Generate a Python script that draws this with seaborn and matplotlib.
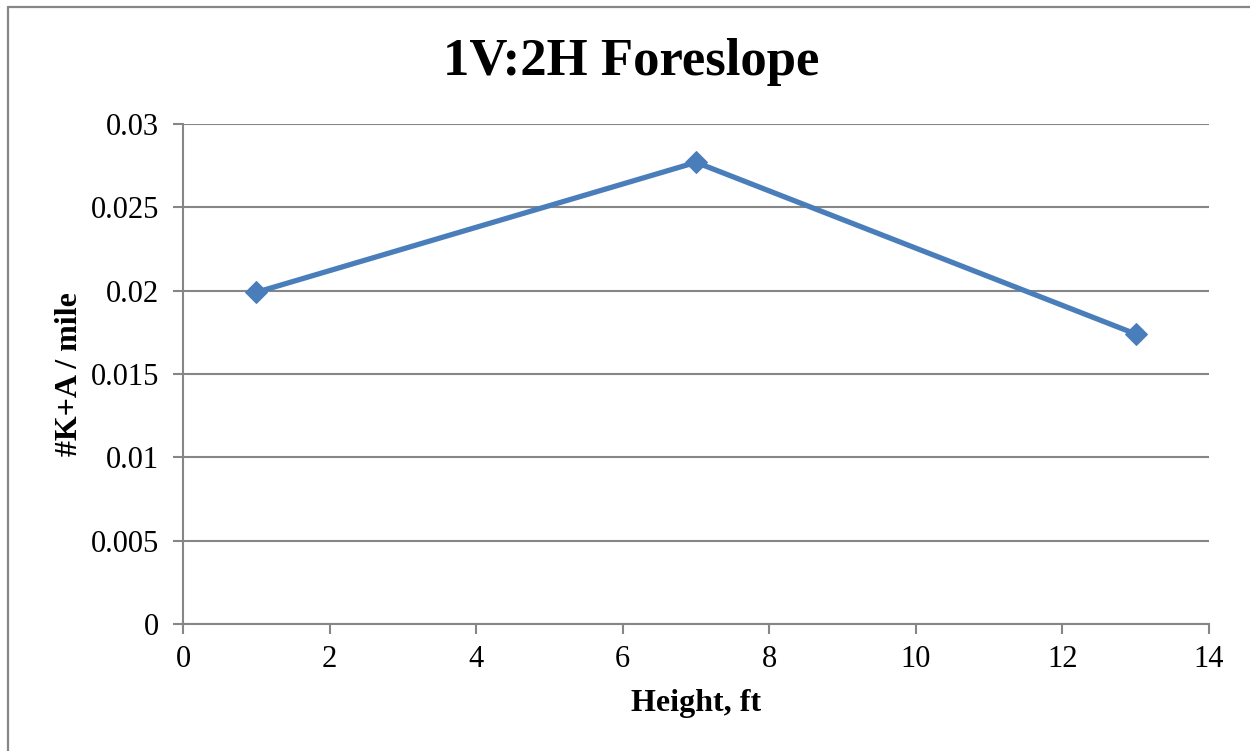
import matplotlib
matplotlib.use('Agg')
import matplotlib.pyplot as plt
import seaborn as sns
import pandas as pd
from matplotlib.lines import Line2D

# Datos
heights = [1, 7, 13]
ka_per_mile = [0.0199, 0.0277, 0.0174]
x_ticks = [0, 2, 4, 6, 8, 10, 12, 14]
y_ticks = [0, 0.005, 0.01, 0.015, 0.02, 0.025, 0.03]
y_tick_labels = ['0', '0.005', '0.01', '0.015', '0.02', '0.025', '0.03']

df = pd.DataFrame({'Height': heights, 'KA': ka_per_mile})

sns.set_style('white')
plt.rcParams['font.family'] = ['Liberation Serif', 'DejaVu Serif']

grey = '#868686'
blue = '#4A7EBB'

fig = plt.figure(figsize=(12.5, 7.51), dpi=100)
ax = fig.add_axes([0.1464, 0.1691, 0.8208, 0.6658])

# Marco exterior del grafico (solo arriba e izquierda visibles)
fig.lines.append(Line2D([0.0066, 1.0], [0.9907, 0.9907], transform=fig.transFigure,
                        color=grey, linewidth=1.6))
fig.lines.append(Line2D([0.0066, 0.0066], [0.0, 0.9907], transform=fig.transFigure,
                        color=grey, linewidth=1.6))

sns.lineplot(data=df, x='Height', y='KA', ax=ax, color=blue, linewidth=3.8,
             marker='D', markersize=11, markeredgecolor=blue, markerfacecolor=blue)

ax.set_xlim(0, 14)
ax.set_ylim(0, 0.03)
ax.set_xticks(x_ticks)
ax.set_yticks(y_ticks)
ax.set_yticklabels(y_tick_labels)
ax.tick_params(axis='both', labelsize=22, labelcolor='black', length=7, width=1.5,
               color=grey, direction='out', pad=8, bottom=True, left=True)
ax.tick_params(axis='y', pad=10)

ax.yaxis.grid(True, color=grey, linewidth=1.5)
ax.xaxis.grid(False)
ax.set_axisbelow(True)
for side in ['top', 'right']:
    ax.spines[side].set_visible(False)
for side in ['left', 'bottom']:
    ax.spines[side].set_color(grey)
    ax.spines[side].set_linewidth(1.5)

ax.set_xlabel('Height, ft', fontsize=23, fontweight='bold', labelpad=11, color='black')
ax.set_ylabel('#K+A / mile', fontsize=23, fontweight='bold', labelpad=5, color='black')
fig.text(0.505, 0.917, '1V:2H Foreslope', fontsize=38, fontweight='bold',
         ha='center', va='center', color='black')

fig.savefig('out.png', dpi=100)
